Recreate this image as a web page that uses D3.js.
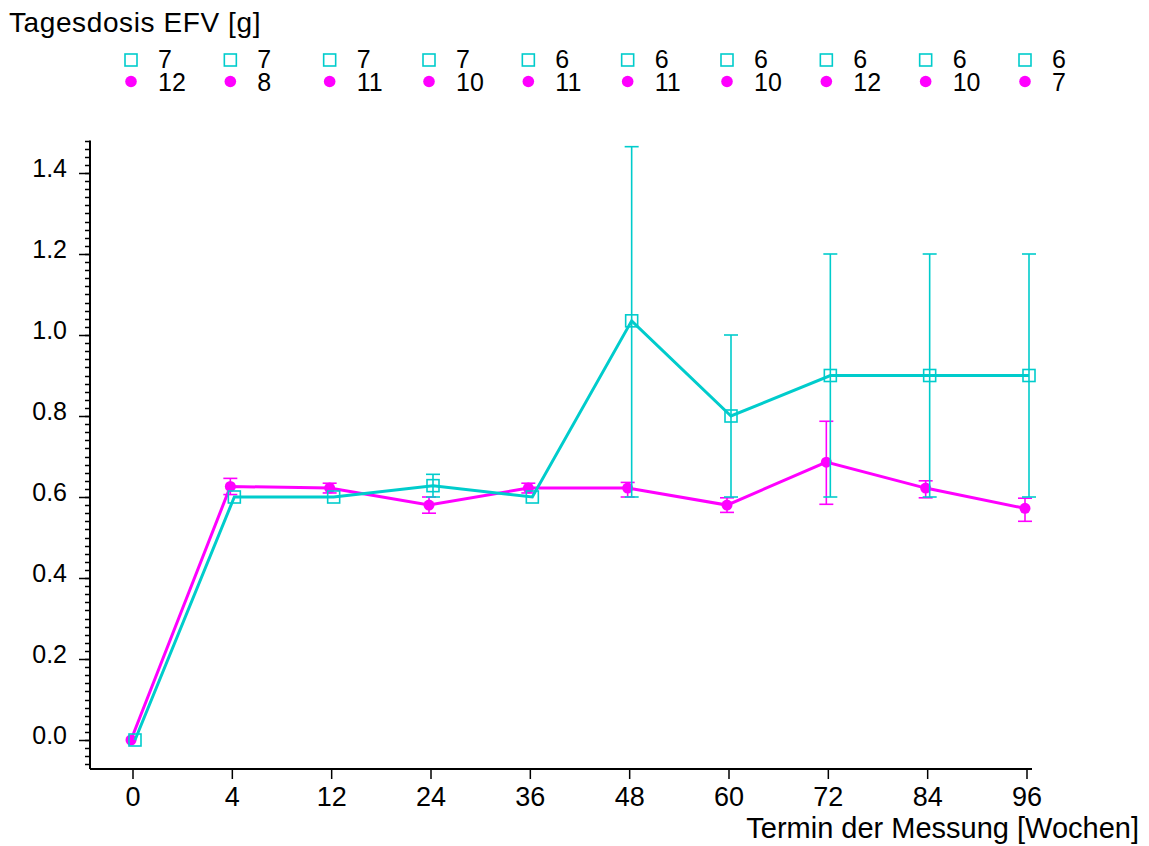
<!DOCTYPE html>
<html>
<head>
<meta charset="utf-8">
<script src="https://cdn.jsdelivr.net/npm/d3@7"></script>
<style>
  html, body { margin: 0; padding: 0; background: #fff; }
  svg { display: block; font-family: "Liberation Sans", Arial, sans-serif; }
</style>
</head>
<body>
<svg id="chart" width="1149" height="846"></svg>
<script>
// Measurement dates (weeks)
const weeks = ["0", "4", "12", "24", "36", "48", "60", "72", "84", "96"];

// Group A (cyan squares): daily dose mean and error range
const meanA = [0.0, 0.6, 0.6, 0.628, 0.6, 1.035, 0.8, 0.9, 0.9, 0.9];
const lowA  = [0.0, 0.6, 0.6, 0.6, 0.6, 0.6, 0.6, 0.6, 0.6, 0.6];
const highA = [0.0, 0.6, 0.6, 0.656, 0.6, 1.465, 1.0, 1.2, 1.2, 1.2];
const nA    = [7, 7, 7, 7, 6, 6, 6, 6, 6, 6];

// Group B (magenta dots): daily dose mean and error range
const meanB = [0.0, 0.626, 0.622, 0.58, 0.622, 0.622, 0.58, 0.686, 0.622, 0.572];
const lowB  = [0.0, 0.606, 0.61, 0.56, 0.61, 0.6, 0.562, 0.582, 0.598, 0.54];
const highB = [0.0, 0.646, 0.634, 0.6, 0.634, 0.636, 0.598, 0.787, 0.64, 0.597];
const nB    = [12, 8, 11, 10, 11, 11, 10, 12, 10, 7];

const yTicks = [0.0, 0.2, 0.4, 0.6, 0.8, 1.0, 1.2, 1.4];

const cyan = "#00cccc";
const magenta = "#ff00ff";

const svg = d3.select("#chart");

const x = d3.scalePoint().domain(weeks).range([133, 1027]);
const y = d3.scaleLinear().domain([0, 1.4]).range([740, 173]);

const axisX0 = 90, axisX1 = 1032, axisYBottom = 769;

// Y axis: major ticks every 0.2, minor every 0.02
const minor = d3.range(-0.06, 1.481, 0.02).map(v => +v.toFixed(2));
const yAxis = svg.append("g").attr("stroke", "#000");
yAxis.append("line")
  .attr("x1", axisX0).attr("x2", axisX0)
  .attr("y1", y(1.48)).attr("y2", axisYBottom)
  .attr("stroke-width", 2);
yAxis.selectAll("line.minor").data(minor).enter().append("line")
  .attr("class", "minor")
  .attr("x1", axisX0 - 5).attr("x2", axisX0)
  .attr("y1", d => Math.round(y(d)) + 0.5).attr("y2", d => Math.round(y(d)) + 0.5)
  .attr("stroke-width", 1.5);
yAxis.selectAll("line.major").data(yTicks).enter().append("line")
  .attr("class", "major")
  .attr("x1", axisX0 - 11).attr("x2", axisX0)
  .attr("y1", d => Math.round(y(d)) + 0.5).attr("y2", d => Math.round(y(d)) + 0.5)
  .attr("stroke-width", 1.5);
svg.selectAll("text.ytick").data(yTicks).enter().append("text")
  .attr("class", "ytick")
  .attr("x", 67).attr("y", d => y(d) + 4)
  .attr("text-anchor", "end")
  .attr("font-size", 25)
  .text(d => d.toFixed(1));

// X axis
const xAxis = svg.append("g").attr("stroke", "#000");
xAxis.append("line")
  .attr("x1", axisX0).attr("x2", axisX1)
  .attr("y1", axisYBottom).attr("y2", axisYBottom)
  .attr("stroke-width", 2);
xAxis.selectAll("line.xt").data(weeks).enter().append("line")
  .attr("class", "xt")
  .attr("x1", d => x(d)).attr("x2", d => x(d))
  .attr("y1", axisYBottom).attr("y2", axisYBottom + 10)
  .attr("stroke-width", 1.5);
svg.selectAll("text.xtick").data(weeks).enter().append("text")
  .attr("class", "xtick")
  .attr("x", d => x(d)).attr("y", 806)
  .attr("text-anchor", "middle")
  .attr("font-size", 27)
  .text(d => d);

// Axis titles
svg.append("text")
  .attr("x", 9).attr("y", 32)
  .attr("font-size", 28)
  .attr("letter-spacing", 0.6)
  .text("Tagesdosis EFV [g]");
svg.append("text")
  .attr("x", 1139).attr("y", 838)
  .attr("text-anchor", "end")
  .attr("font-size", 29)
  .text("Termin der Messung [Wochen]");

// Series drawing
function drawSeries(mean, low, high, color, dx, marker) {
  const pts = weeks.map((w, i) => ({ w, m: mean[i], lo: low[i], hi: high[i] }));
  const g = svg.append("g");
  const px = d => x(d.w) + dx;
  // error bars
  const eb = g.selectAll("g.eb").data(pts.filter(d => d.hi > d.lo)).enter().append("g")
    .attr("stroke", color).attr("stroke-width", 1.6).attr("fill", "none");
  eb.append("line").attr("x1", px).attr("x2", px)
    .attr("y1", d => y(d.lo)).attr("y2", d => y(d.hi));
  eb.append("line").attr("x1", d => px(d) - 7).attr("x2", d => px(d) + 7)
    .attr("y1", d => y(d.hi)).attr("y2", d => y(d.hi));
  eb.append("line").attr("x1", d => px(d) - 7).attr("x2", d => px(d) + 7)
    .attr("y1", d => y(d.lo)).attr("y2", d => y(d.lo));
  // connecting line
  g.append("path")
    .datum(pts)
    .attr("fill", "none").attr("stroke", color).attr("stroke-width", 3)
    .attr("d", d3.line().x(px).y(d => y(d.m)));
  // markers
  if (marker === "square") {
    g.selectAll("rect").data(pts).enter().append("rect")
      .attr("x", d => px(d) - 6).attr("y", d => y(d.m) - 6)
      .attr("width", 12).attr("height", 12)
      .attr("fill", "none").attr("stroke", color).attr("stroke-width", 1.6);
  } else {
    g.selectAll("circle").data(pts).enter().append("circle")
      .attr("cx", px).attr("cy", d => y(d.m)).attr("r", 5.5)
      .attr("fill", color);
  }
}

drawSeries(meanB, lowB, highB, magenta, -2, "dot");
drawSeries(meanA, lowA, highA, cyan, 2, "square");

// Legend: sample counts per date
const legA = svg.selectAll("g.legA").data(weeks).enter().append("g")
  .attr("transform", d => `translate(${x(d) - 2},0)`);
legA.append("rect").attr("x", -6).attr("y", 54).attr("width", 12).attr("height", 12)
  .attr("fill", "none").attr("stroke", cyan).attr("stroke-width", 1.6);
legA.append("text").attr("x", 27).attr("y", 68).attr("font-size", 25)
  .text((d, i) => nA[i]);

const legB = svg.selectAll("g.legB").data(weeks).enter().append("g")
  .attr("transform", d => `translate(${x(d) - 2},0)`);
legB.append("circle").attr("cx", 0).attr("cy", 81.5).attr("r", 5.8).attr("fill", magenta);
legB.append("text").attr("x", 27).attr("y", 90.5).attr("font-size", 25)
  .text((d, i) => nB[i]);
</script>
</body>
</html>
